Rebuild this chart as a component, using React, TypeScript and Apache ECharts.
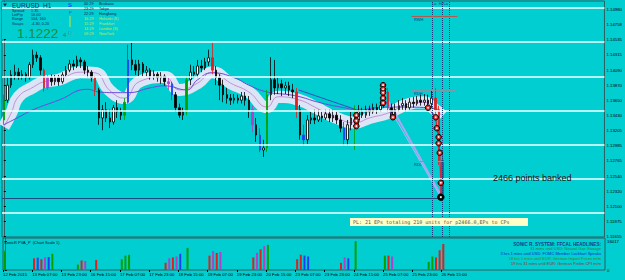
import React, { useEffect, useRef } from 'react';
import * as echarts from 'echarts';

const BG = '#00CED1';
const FONT = 'Liberation Sans, Arial, sans-serif';

// time axis labels, one every 16 hourly bars (8 two-hour slots)
const TIME_LABELS = ['12 Feb 2015', '13 Feb 07:00', '13 Feb 23:00', '16 Feb 15:00', '17 Feb 07:00', '17 Feb 23:00', '18 Feb 15:00', '19 Feb 07:00', '19 Feb 23:00', '20 Feb 15:00', '23 Feb 07:00', '23 Feb 23:00', '24 Feb 15:00', '25 Feb 07:00', '25 Feb 23:00', '26 Feb 15:00'];
const SLOTS_PER_LABEL = 8;

// price axis labels
const Y_TICKS = [1.14980, 1.14758, 1.14535, 1.14315, 1.14090, 1.13870, 1.13650, 1.13430, 1.13205, 1.12985, 1.12765, 1.12540, 1.12320, 1.12100, 1.11875, 1.11655];
const LEVELS = [1.150, 1.145, 1.140, 1.135, 1.130, 1.125, 1.120];
const CURRENT_PRICE = 1.1222;
const VOL_TICKS = [0, 16017];

// EURUSD candles (two-hour slots): [open, close, low, high]
const CANDLES = [
  [1.1336, 1.1365, 1.1329, 1.1373], [1.1365, 1.1387, 1.1361, 1.1398], [1.1387, 1.1402, 1.1383, 1.1409], [1.1402, 1.1406, 1.1395, 1.1417],
  [1.1406, 1.1400, 1.1395, 1.1412], [1.1400, 1.1403, 1.1395, 1.1409], [1.1403, 1.1398, 1.1392, 1.1406], [1.1398, 1.1417, 1.1395, 1.1421],
  [1.1417, 1.1431, 1.1412, 1.1439], [1.1431, 1.1427, 1.1421, 1.1436], [1.1427, 1.1409, 1.1402, 1.1431], [1.1409, 1.1383, 1.1377, 1.1412],
  [1.1383, 1.1398, 1.1380, 1.1402], [1.1398, 1.1392, 1.1386, 1.1403], [1.1392, 1.1398, 1.1387, 1.1402], [1.1398, 1.1392, 1.1386, 1.1402],
  [1.1392, 1.1402, 1.1389, 1.1406], [1.1402, 1.1409, 1.1399, 1.1415], [1.1409, 1.1418, 1.1406, 1.1424], [1.1418, 1.1415, 1.1409, 1.1424],
  [1.1415, 1.1424, 1.1412, 1.1430], [1.1424, 1.1421, 1.1412, 1.1428], [1.1421, 1.1409, 1.1403, 1.1424], [1.1409, 1.1406, 1.1398, 1.1415],
  [1.1406, 1.1398, 1.1392, 1.1409], [1.1398, 1.1380, 1.1371, 1.1400], [1.1380, 1.1339, 1.1329, 1.1383], [1.1339, 1.1351, 1.1321, 1.1358],
  [1.1351, 1.1339, 1.1333, 1.1362], [1.1339, 1.1333, 1.1324, 1.1351], [1.1333, 1.1354, 1.1329, 1.1358], [1.1354, 1.1348, 1.1339, 1.1365],
  [1.1348, 1.1343, 1.1336, 1.1354], [1.1343, 1.1362, 1.1336, 1.1368], [1.1362, 1.1424, 1.1360, 1.1446], [1.1424, 1.1417, 1.1409, 1.1449],
  [1.1417, 1.1409, 1.1402, 1.1424], [1.1409, 1.1418, 1.1400, 1.1424], [1.1418, 1.1406, 1.1400, 1.1421], [1.1406, 1.1409, 1.1400, 1.1415],
  [1.1409, 1.1400, 1.1395, 1.1412], [1.1400, 1.1403, 1.1395, 1.1409], [1.1403, 1.1398, 1.1392, 1.1406], [1.1398, 1.1400, 1.1389, 1.1406],
  [1.1400, 1.1392, 1.1386, 1.1403], [1.1392, 1.1389, 1.1380, 1.1398], [1.1389, 1.1373, 1.1365, 1.1392], [1.1373, 1.1354, 1.1348, 1.1377],
  [1.1354, 1.1343, 1.1339, 1.1360], [1.1343, 1.1348, 1.1336, 1.1354], [1.1348, 1.1395, 1.1343, 1.1400], [1.1395, 1.1406, 1.1387, 1.1417],
  [1.1406, 1.1403, 1.1398, 1.1415], [1.1403, 1.1415, 1.1398, 1.1424], [1.1415, 1.1412, 1.1406, 1.1424], [1.1412, 1.1421, 1.1409, 1.1427],
  [1.1421, 1.1427, 1.1415, 1.1439], [1.1427, 1.1409, 1.1403, 1.1450], [1.1409, 1.1398, 1.1387, 1.1415], [1.1398, 1.1387, 1.1365, 1.1403],
  [1.1387, 1.1373, 1.1362, 1.1395], [1.1373, 1.1368, 1.1360, 1.1383], [1.1368, 1.1365, 1.1358, 1.1374], [1.1365, 1.1368, 1.1360, 1.1374],
  [1.1368, 1.1365, 1.1360, 1.1373], [1.1365, 1.1371, 1.1360, 1.1377], [1.1371, 1.1365, 1.1357, 1.1377], [1.1365, 1.1351, 1.1339, 1.1371],
  [1.1351, 1.1329, 1.1318, 1.1357], [1.1329, 1.1314, 1.1304, 1.1339], [1.1314, 1.1292, 1.1289, 1.1324], [1.1292, 1.1295, 1.1282, 1.1307],
  [1.1295, 1.1373, 1.1289, 1.1380], [1.1373, 1.1395, 1.1365, 1.1428], [1.1395, 1.1383, 1.1373, 1.1424], [1.1383, 1.1389, 1.1374, 1.1398],
  [1.1389, 1.1383, 1.1371, 1.1395], [1.1383, 1.1386, 1.1374, 1.1392], [1.1386, 1.1380, 1.1371, 1.1392], [1.1380, 1.1377, 1.1368, 1.1389],
  [1.1377, 1.1351, 1.1339, 1.1383], [1.1351, 1.1314, 1.1307, 1.1358], [1.1314, 1.1307, 1.1298, 1.1329], [1.1307, 1.1336, 1.1301, 1.1343],
  [1.1336, 1.1339, 1.1330, 1.1348], [1.1339, 1.1336, 1.1330, 1.1351], [1.1336, 1.1342, 1.1333, 1.1351], [1.1342, 1.1339, 1.1333, 1.1348],
  [1.1339, 1.1345, 1.1336, 1.1351], [1.1345, 1.1339, 1.1333, 1.1351], [1.1339, 1.1343, 1.1333, 1.1351], [1.1343, 1.1336, 1.1330, 1.1348],
  [1.1336, 1.1324, 1.1318, 1.1343], [1.1324, 1.1307, 1.1298, 1.1333], [1.1307, 1.1329, 1.1299, 1.1336], [1.1329, 1.1339, 1.1321, 1.1348],
  [1.1339, 1.1336, 1.1292, 1.1358], [1.1336, 1.1348, 1.1329, 1.1358], [1.1348, 1.1343, 1.1339, 1.1354], [1.1343, 1.1351, 1.1339, 1.1357],
  [1.1351, 1.1348, 1.1342, 1.1357], [1.1348, 1.1354, 1.1345, 1.1360], [1.1354, 1.1351, 1.1345, 1.1360], [1.1351, 1.1357, 1.1348, 1.1365],
  [1.1357, 1.1377, 1.1354, 1.1387], [1.1377, 1.1354, 1.1348, 1.1383], [1.1354, 1.1342, 1.1336, 1.1360], [1.1342, 1.1351, 1.1336, 1.1360],
  [1.1351, 1.1357, 1.1348, 1.1365], [1.1357, 1.1360, 1.1351, 1.1368], [1.1360, 1.1354, 1.1348, 1.1365], [1.1354, 1.1362, 1.1351, 1.1368],
  [1.1362, 1.1360, 1.1354, 1.1370], [1.1360, 1.1365, 1.1357, 1.1371], [1.1365, 1.1362, 1.1357, 1.1373], [1.1362, 1.1365, 1.1357, 1.1374],
  [1.1365, 1.1360, 1.1351, 1.1373], [1.1360, 1.1368, 1.1354, 1.1380], [1.1368, 1.1351, 1.1345, 1.1383], [1.1351, 1.1277, 1.1270, 1.1357],
  [1.1277, 1.1222, 1.1220, 1.1285],
];

// PVA coloured candles (slot indexes)
const PVA_RED = [11, 25, 57, 80, 105, 118, 119, 120];
const PVA_GREEN = [0, 33, 50, 72, 96];
const PVA_BLUE = [34, 46, 70, 82, 93];
const PVA_PURPLE = [12, 45, 68];

// moving-average ribbon and slow average: [slot, price]
const BAND = [[0, 1.1326], [2, 1.1346], [4, 1.1370], [8, 1.1384], [11, 1.1392], [15, 1.1395], [21, 1.1406], [25, 1.1405], [29, 1.1379], [33, 1.1368], [37, 1.1392], [44, 1.1399], [48, 1.1380], [53, 1.1390], [57, 1.1406], [62, 1.1390], [67, 1.1377], [72, 1.1355], [75, 1.1370], [81, 1.1365], [85, 1.1355], [91, 1.1339], [96, 1.1332], [100, 1.1339], [105, 1.1346], [110, 1.1358], [115, 1.1362], [117, 1.1355], [120, 1.1342]];
const SLOW_MA = [[0, 1.1329], [4, 1.1340], [8, 1.1351], [15, 1.1365], [23, 1.1381], [26, 1.1377], [31, 1.1376], [34, 1.1376], [40, 1.1383], [44, 1.1386], [50, 1.1380], [53, 1.1395], [57, 1.1405], [63, 1.1398], [67, 1.1387], [72, 1.1377], [78, 1.1373], [81, 1.1370], [86, 1.1362], [93, 1.1354], [97, 1.1351], [102, 1.1354], [108, 1.1355], [116, 1.1354], [119, 1.1351]];

// trade markers and lines
const MARKERS = [[96.4, 1.1343], [96.4, 1.1335], [96.4, 1.1327], [103.7, 1.1387], [103.7, 1.1381], [103.7, 1.1376], [103.7, 1.1368], [103.7, 1.1361], [106.4, 1.1340], [116, 1.1354], [118.1, 1.1340], [118.4, 1.1324], [118.9, 1.1311], [118.9, 1.1302], [119.2, 1.1288], [119.5, 1.1244]];
const LAST_MARKER = [119.5, 1.1223];
const EXIT_PATH = [[116, 1.1354], [118.1, 1.1340], [118.4, 1.1324], [118.9, 1.1311], [118.9, 1.1302], [119.2, 1.1288], [119.5, 1.1244], [119.5, 1.1223]];
const ENTRY_PATH = [[103.7, 1.1373], [106.4, 1.1340]];
const TREND_A = [[105, 1.1365], [119.2, 1.1229]];
const TREND_B = [[107, 1.1339], [119.5, 1.1223]];
const BLUE_TL = [[80.6, 1.1380], [96.4, 1.1351]];
const DOTTED_X = [117.2, 120, 121.9];
const PIVOTS = [
  { name: 'RWH', price: 1.1488, from: 111.5, to: 124, color: '#B05A50' },
  { name: 'RDH', price: 1.1379, from: 111.5, to: 123.5, color: '#7A9AAA' },
  { name: 'RDL', price: 1.1275, from: 111.5, to: 123.5, color: '#7A9AAA' },
];

// sub-window volume (PVA): [slot, volume, colour key]
const VOLUMES = [
  [0, 10700, 'g'], [8, 6500, 'r'], [9, 6900, 'b'], [10, 6000, 'r'], [11, 7000, 'p'], [12, 7200, 'b'], [13, 9000, 'g'],
  [20, 3000, 'g'], [21, 5300, 'r'], [22, 5000, 'p'], [25, 5600, 'r'],
  [32, 6000, 'g'], [33, 8000, 'g'], [34, 8500, 'g'],
  [44, 4000, 'r'], [45, 6500, 'p'], [46, 7000, 'r'], [47, 7500, 'p'], [48, 9000, 'b'], [50, 12300, 'g'],
  [56, 8000, 'r'], [57, 10500, 'p'], [58, 9500, 'r'], [59, 10000, 'p'],
  [68, 7000, 'r'], [69, 9500, 'p'], [70, 11500, 'r'], [71, 13300, 'p'], [72, 14000, 'g'],
  [80, 6000, 'r'], [81, 8500, 'r'], [82, 8000, 'b'], [83, 7500, 'b'],
  [92, 4000, 'r'], [93, 7000, 'p'], [94, 6500, 'b'], [96, 16000, 'g'],
  [104, 8000, 'g'], [105, 8000, 'r'], [106, 7500, 'p'],
  [116, 4500, 'g'], [117, 7500, 'g'], [118, 7000, 'r'], [119, 11000, 'r'], [120, 14500, 'r'],
];

const INFO_ROWS = [['Spread', '1.35'], ['LotPip', '10.00'], ['Range', '104, 160'], ['Swaps', '-4.30, 0.20']];
const CLOCK_TIMES = ['00:29', '23:29', '22:29', '16:29', '15:29', '14:29', '09:29'];
const CLOCK_CITIES = ['Brisbane', 'Tokyo', 'Hongkong', 'Helsinki (S)', 'Frankfurt', 'London (S)', 'NewYork'];
const HEADLINES = [
  ['SONIC R. SYSTEM: FFCAL HEADLINES:', '#1C3C8C'],
  ['31 mins until USD: Natural Gas Storage', '#2E7D3A'],
  ['3 hrs 1 mins until USD: FOMC Member Lockhart Speaks', '#1028C8'],
  ['18 hrs 1 mins until EUR: German Import Prices m/m', '#4A7F2A'],
  ['19 hrs 31 mins until EUR: German Prelim CPI m/m', '#9A3030'],
];

const COLORS: Record<string, string> = { g: '#00A000', r: '#E0201E', b: '#1F3FF0', p: '#B040C8' };
const X_MIN = -0.5;
const X_MAX = 164.25;
const Y_MIN = 1.11647;
const Y_MAX = 1.15102;
const VOL_MAX = 17800;

function pva(i: number): string | null {
  if (PVA_RED.includes(i)) return COLORS.r;
  if (PVA_GREEN.includes(i)) return COLORS.g;
  if (PVA_BLUE.includes(i)) return COLORS.b;
  if (PVA_PURPLE.includes(i)) return COLORS.p;
  return null;
}

function txt(text: string, x: number, y: number, fill: string, fontSize: number, extra: any = {}) {
  return {
    type: 'text', x, y, z: 20, silent: true,
    style: { text, fill, fontSize, fontFamily: extra.fontFamily || FONT, fontWeight: extra.fontWeight || 'normal', textAlign: extra.align || 'left', textVerticalAlign: 'middle' },
  };
}

export default function App() {
  const ref = useRef<HTMLDivElement>(null);
  useEffect(() => {
    document.body.style.margin = '0';
    const chart = echarts.init(ref.current!, null, { renderer: 'svg' });

    const candleData = CANDLES.map((c, i) => {
      const col = pva(i);
      const value = [i, ...c];
      return col ? { value, itemStyle: { color: col, color0: col, borderColor: col, borderColor0: col } } : { value };
    });
    const timeTicks = TIME_LABELS.map((_, k) => k * SLOTS_PER_LABEL - 0.5);
    const pxPerPrice = 236 / (Y_MAX - Y_MIN);

    const graphic: any[] = [
      { type: 'rect', z: 1, silent: true, shape: { x: 2, y: 2, width: 135, height: 37 }, style: { fill: BG } },
      { type: 'polygon', z: 20, silent: true, shape: { points: [[3, 3.5], [7, 3.5], [5, 6.5]] }, style: { fill: '#1A2A5A' } },
      txt('EURUSD  H1', 12, 5, '#1A2A5A', 6.5),
      ...INFO_ROWS.flatMap((r, k) => [txt(r[0], 12, 11 + k * 4.2, '#1A2A5A', 3.8), txt(r[1], 31, 11 + k * 4.2, '#1A2A5A', 3.8)]),
      txt(CURRENT_PRICE.toFixed(4), 17, 33, '#1E8A3A', 13.5),
      txt('4', 63, 35, '#1E8A3A', 6),
      txt('S', 68, 4.5, '#2040FF', 6, { fontWeight: 'bold' }),
      txt('P', 69, 12, '#2040C0', 4),
      { type: 'rect', z: 20, silent: true, shape: { x: 69.5, y: 16, width: 1, height: 11 }, style: { fill: '#C8E040' } },
      txt('R', 68, 33, '#7A8A9A', 6),
      ...CLOCK_TIMES.map((t, k) => txt(t, 84, 4 + k * 5, k < 3 ? '#10204A' : '#C8E858', 3.8)),
      ...CLOCK_CITIES.map((t, k) => txt(t, 99, 4 + k * 5, k < 3 ? '#10204A' : '#C8E858', 3.8)),
      txt('Lo  Hi/Lo', 432, 3.5, '#1A3A7A', 4),
      ...PIVOTS.map((p) => txt(p.name, 414, 1 + (Y_MAX - p.price) * pxPerPrice + 3, '#1A3A7A', 4)),
      txt('2466 points banked', 493, 178, '#111111', 9),
      { type: 'rect', z: 20, silent: true, shape: { x: 350, y: 218, width: 178, height: 8 }, style: { fill: '#FFFFC8' } },
      txt('PL: 21 EPs totaling 210 units for p2466.0,EPs to CPs', 353, 222.2, '#505050', 5, { fontFamily: 'DejaVu Sans Mono, monospace' }),
      txt('SonicR PVA_P  (Chart Scale 1)', 4, 242, '#111111', 4),
      ...HEADLINES.map((h, k) => txt(h[0], 601, 244 + k * 4.8, h[1], k === 0 ? 4.6 : 4, { align: 'right', fontWeight: k === 0 ? 'bold' : 'normal' })),
    ];

    const option: any = {
      animation: false,
      backgroundColor: BG,
      textStyle: { fontFamily: FONT },
      grid: [
        { left: 2, right: 20, top: 1, height: 236, show: true, borderColor: '#2F5F63', borderWidth: 1 },
        { left: 2, right: 20, top: 238, height: 32, show: true, borderColor: '#2F5F63', borderWidth: 1 },
      ],
      xAxis: [
        { type: 'value', gridIndex: 0, min: X_MIN, max: X_MAX, show: false },
        {
          type: 'value', gridIndex: 1, min: X_MIN, max: X_MAX,
          axisLine: { show: false }, splitLine: { show: false },
          axisTick: { show: true, length: 2, customValues: timeTicks, lineStyle: { color: '#000' } },
          axisLabel: {
            customValues: timeTicks, align: 'left', margin: 2, fontSize: 4.3, color: '#000',
            formatter: (v: number) => TIME_LABELS[Math.round((v + 0.5) / SLOTS_PER_LABEL)] ?? '',
          },
        },
      ],
      yAxis: [
        {
          type: 'value', gridIndex: 0, position: 'right', min: Y_MIN, max: Y_MAX,
          splitLine: { show: false }, axisLine: { show: true, lineStyle: { color: '#2F5F63' } },
          axisTick: { show: true, length: 2, customValues: Y_TICKS, lineStyle: { color: '#000' } },
          axisLabel: { customValues: Y_TICKS, fontSize: 4.3, margin: 2, color: '#000', formatter: (v: number) => v.toFixed(5) },
        },
        {
          type: 'value', gridIndex: 1, position: 'right', min: 0, max: VOL_MAX,
          splitLine: { show: false }, axisLine: { show: true, lineStyle: { color: '#2F5F63' } },
          axisTick: { show: true, length: 2, customValues: VOL_TICKS, lineStyle: { color: '#000' } },
          axisLabel: { customValues: VOL_TICKS, fontSize: 4.3, margin: 2, color: '#000', formatter: (v: number) => String(v) },
        },
      ],
      series: [
        {
          type: 'line', name: 'levels', data: [], z: 0, silent: true,
          markLine: {
            symbol: 'none', silent: true, animation: false, precision: 5,
            label: { show: false },
            data: LEVELS.map((v) => ({ yAxis: v, lineStyle: { color: '#F2FFFF', width: 1.6, type: 'solid' } })),
          },
        },
        { type: 'line', name: 'band', data: BAND, smooth: 0.5, symbol: 'none', z: 1, silent: true, lineStyle: { width: 12, color: '#E8E6F8', opacity: 0.95 } },
        { type: 'line', name: 'fast', data: BAND, smooth: 0.5, symbol: 'none', z: 2, silent: true, lineStyle: { width: 0.8, color: '#C07AC8' } },
        { type: 'line', name: 'slow', data: SLOW_MA, smooth: 0.5, symbol: 'none', z: 2, silent: true, lineStyle: { width: 1, color: '#6A48D8' } },
        { type: 'line', name: 'blueTl', data: BLUE_TL, symbol: 'none', z: 2, silent: true, lineStyle: { width: 1, color: '#2F4FC0' } },
        { type: 'line', name: 'trendA', data: TREND_A, symbol: 'none', z: 2, silent: true, lineStyle: { width: 2, color: '#A8A8F0' } },
        { type: 'line', name: 'trendB', data: TREND_B, symbol: 'none', z: 2, silent: true, lineStyle: { width: 1, color: '#B4B4FF' } },
        {
          type: 'candlestick', name: 'EURUSD', data: candleData, barWidth: 2, z: 3, silent: true,
          encode: { x: 0, y: [1, 2, 3, 4] },
          itemStyle: { color: '#FFFFFF', color0: '#000000', borderColor: '#000000', borderColor0: '#000000', borderWidth: 0.8 },
          markLine: {
            symbol: 'none', silent: true, animation: false, precision: 5,
            data: [
              {
                yAxis: CURRENT_PRICE, lineStyle: { opacity: 0 },
                label: { show: true, position: 'end', distance: 1, formatter: CURRENT_PRICE.toFixed(5), backgroundColor: '#000', color: '#fff', fontSize: 4.3, padding: [1, 3, 1, 2] },
              },
              [
                { coord: [X_MIN, CURRENT_PRICE], lineStyle: { color: '#1E4E7E', width: 1, type: 'solid' }, label: { show: false } },
                { coord: [119.5, CURRENT_PRICE] },
              ],
              ...DOTTED_X.map((x) => ({ xAxis: x, lineStyle: { color: '#1A3A7A', width: 1, type: 'dotted' }, label: { show: false } })),
              ...PIVOTS.map((p) => [
                { coord: [p.from, p.price], lineStyle: { color: p.color, width: 1, type: 'solid' }, label: { show: false } },
                { coord: [p.to, p.price] },
              ]),
            ],
          },
        },
        { type: 'line', name: 'entry', data: ENTRY_PATH, symbol: 'none', z: 4, silent: true, lineStyle: { width: 1, color: '#7A50C8' } },
        { type: 'line', name: 'exit', data: EXIT_PATH, symbol: 'none', z: 4, silent: true, lineStyle: { width: 1.3, color: '#D02840' } },
        { type: 'scatter', name: 'marks', data: MARKERS, symbol: 'circle', symbolSize: 5.5, z: 6, silent: true, itemStyle: { color: '#E03030', borderColor: '#000', borderWidth: 1, opacity: 1 } },
        { type: 'scatter', name: 'marksIn', data: MARKERS, symbol: 'circle', symbolSize: 1.8, z: 7, silent: true, itemStyle: { color: '#FFFFFF', opacity: 1 } },
        { type: 'scatter', name: 'last', data: [LAST_MARKER], symbol: 'circle', symbolSize: 6.5, z: 6, silent: true, itemStyle: { color: '#000', borderColor: '#000', borderWidth: 1, opacity: 1 } },
        { type: 'scatter', name: 'lastIn', data: [LAST_MARKER], symbol: 'circle', symbolSize: 2, z: 7, silent: true, itemStyle: { color: '#FFFFFF', opacity: 1 } },
        {
          type: 'bar', name: 'volume', xAxisIndex: 1, yAxisIndex: 1, barWidth: 2, silent: true,
          data: VOLUMES.map(([s, v, k]) => ({ value: [s, v], itemStyle: { color: COLORS[k as string] } })),
        },
      ],
      graphic,
    };
    chart.setOption(option);
    return () => chart.dispose();
  }, []);
  return <div ref={ref} style={{ width: 625, height: 280 }} />;
}
